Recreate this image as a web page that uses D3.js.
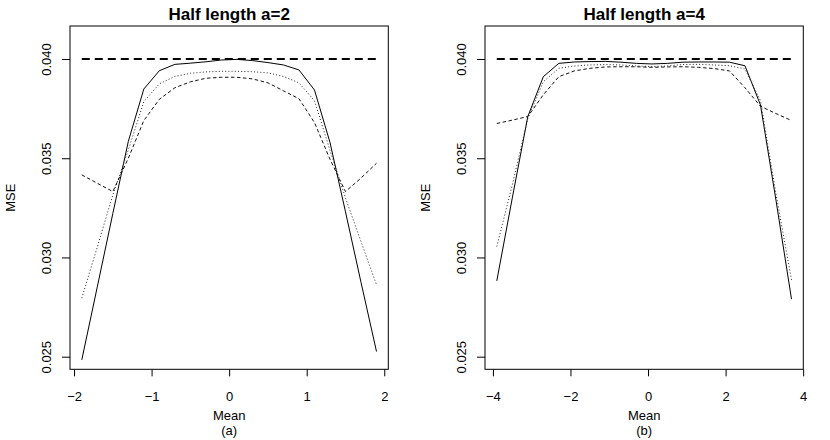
<!DOCTYPE html>
<html>
<head>
<meta charset="utf-8">
<script src="https://cdn.jsdelivr.net/npm/d3@7"></script>
<style>
  html, body { margin: 0; padding: 0; background: #fff; }
  svg { display: block; font-family: "Liberation Sans", Arial, Helvetica, sans-serif; }
</style>
</head>
<body>
<svg id="chart" width="830" height="440"></svg>
<script>
'use strict';

// Panel (a): half length a=2
var meanA = [-1.9, -1.7, -1.5, -1.3, -1.1, -0.9, -0.7, -0.5, -0.3, -0.1,
  0.1, 0.3, 0.5, 0.7, 0.9, 1.1, 1.3, 1.5, 1.7, 1.9];
var solidA = [0.02484, 0.02852, 0.03221, 0.03585, 0.03849, 0.03941, 0.03973, 0.03979, 0.03986, 0.03995,
  0.03998, 0.03992, 0.03982, 0.03970, 0.03945, 0.03844, 0.03580, 0.03230, 0.02875, 0.02526];
var dottedA = [0.02795, 0.03053, 0.03315, 0.03542, 0.03785, 0.03875, 0.03912, 0.03928, 0.03935, 0.03938,
  0.03938, 0.03936, 0.03930, 0.03912, 0.03880, 0.03790, 0.03540, 0.03300, 0.03080, 0.02862];
var dashedA = [0.03416, 0.03374, 0.03332, 0.03500, 0.03690, 0.03797, 0.03855, 0.03885, 0.03903, 0.03908,
  0.03908, 0.03900, 0.03880, 0.03840, 0.03800, 0.03680, 0.03495, 0.03332, 0.03400, 0.03475];

// Panel (b): half length a=4
var meanB = [-3.9, -3.5, -3.1, -2.7, -2.3, -1.9, -1.5, -1.1, -0.7, -0.3,
  0.1, 0.5, 0.9, 1.3, 1.7, 2.1, 2.5, 2.9, 3.3, 3.7];
var solidB = [0.02882, 0.03300, 0.03710, 0.03911, 0.03978, 0.03985, 0.03987, 0.03988, 0.03984, 0.03978,
  0.03975, 0.03978, 0.03984, 0.03985, 0.03985, 0.03984, 0.03966, 0.03768, 0.03288, 0.02790];
var dottedB = [0.03055, 0.03366, 0.03700, 0.03886, 0.03953, 0.03965, 0.03970, 0.03972, 0.03970, 0.03965,
  0.03962, 0.03965, 0.03972, 0.03973, 0.03970, 0.03966, 0.03950, 0.03790, 0.03320, 0.02887];
var dashedB = [0.03675, 0.03692, 0.03710, 0.03820, 0.03911, 0.03940, 0.03953, 0.03960, 0.03961, 0.03961,
  0.03958, 0.03960, 0.03961, 0.03958, 0.03952, 0.03940, 0.03855, 0.03762, 0.03725, 0.03690];

var referenceMSE = 0.04;
var yTicks = [0.025, 0.030, 0.035, 0.040];
var xTicksA = [-2, -1, 0, 1, 2];
var xTicksB = [-4, -2, 0, 2, 4];
var titles = ['Half length a=2', 'Half length a=4'];
var subLabels = ['(a)', '(b)'];

(function initChart() {
  var svg = d3.select('#chart');
  var yDomain = [0.024365, 0.041663];

  var panels = [
    { left: 70, xDomain: [-2.052, 2.052], mean: meanA, solid: solidA, dotted: dottedA, dashed: dashedA, ticks: xTicksA },
    { left: 485, xDomain: [-4.204, 4.004], mean: meanB, solid: solidB, dotted: dottedB, dashed: dashedB, ticks: xTicksB },
  ];

  panels.forEach(function drawPanel(p, i) {
    var top = 26;
    var bottom = 369.3;
    var width = 318.3;
    var x = d3.scaleLinear().domain(p.xDomain).range([p.left, p.left + width]);
    var y = d3.scaleLinear().domain(yDomain).range([bottom, top]);
    var g = svg.append('g');

    function series(values) {
      return p.mean.map(function (m, k) { return [m, values[k]]; });
    }
    var line = d3.line()
      .x(function (d) { return x(d[0]); })
      .y(function (d) { return y(d[1]); });

    // reference level drawn thick and dashed across the data range
    g.append('path')
      .datum([[p.mean[0], referenceMSE], [p.mean[p.mean.length - 1], referenceMSE]])
      .attr('d', line)
      .style('fill', 'none')
      .style('stroke', '#000')
      .style('stroke-width', 2)
      .style('stroke-dasharray', '8,5');

    [
      [p.solid, null, '#000'],
      [p.dotted, '1,2.2', '#222'],
      [p.dashed, '3.5,2.5', '#111'],
    ].forEach(function drawSeries(s) {
      g.append('path')
        .datum(series(s[0]))
        .attr('d', line)
        .style('fill', 'none')
        .style('stroke', s[2])
        .style('stroke-width', 1)
        .style('stroke-dasharray', s[1]);
    });

    // box
    g.append('rect')
      .attr('x', p.left)
      .attr('y', top)
      .attr('width', width)
      .attr('height', bottom - top)
      .style('fill', 'none')
      .style('stroke', '#000')
      .style('stroke-width', 1);

    // x axis
    var xAxis = d3.axisBottom(x)
      .tickValues(p.ticks)
      .tickSize(7)
      .tickPadding(6)
      .tickFormat(function (d) { return d < 0 ? '\u2212' + Math.abs(d) : String(d); });
    var xg = g.append('g').attr('transform', 'translate(0,' + bottom + ')').call(xAxis);
    xg.select('.domain').remove();
    xg.selectAll('text')
      .attr('dy', null)
      .attr('y', 32.2)
      .style('font-family', '"Liberation Sans", Arial, sans-serif')
      .style('font-size', '13px')
      .style('fill', '#000');
    xg.selectAll('line').style('stroke', '#000');

    // y axis
    var yAxis = d3.axisLeft(y)
      .tickValues(yTicks)
      .tickSize(8)
      .tickFormat(d3.format('.3f'));
    var yg = g.append('g').attr('transform', 'translate(' + p.left + ',0)').call(yAxis);
    yg.select('.domain').remove();
    yg.selectAll('line').style('stroke', '#000');
    yg.selectAll('text')
      .attr('x', null)
      .attr('dy', null)
      .attr('transform', 'translate(-19.5,0) rotate(-90)')
      .attr('text-anchor', 'middle')
      .style('font-family', '"Liberation Sans", Arial, sans-serif')
      .style('font-size', '13px')
      .style('fill', '#000');

    var cx = p.left + width / 2;
    g.append('text')
      .attr('x', cx)
      .attr('y', 20)
      .attr('text-anchor', 'middle')
      .style('font-size', '17px')
      .style('font-weight', 'bold')
      .text(titles[i]);
    g.append('text')
      .attr('x', cx)
      .attr('y', 420)
      .attr('text-anchor', 'middle')
      .style('font-size', '13px')
      .text('Mean');
    g.append('text')
      .attr('x', cx)
      .attr('y', 434.5)
      .attr('text-anchor', 'middle')
      .style('font-size', '13px')
      .text(subLabels[i]);
    g.append('text')
      .attr('transform', 'translate(' + (p.left - 55) + ',' + ((top + bottom) / 2) + ') rotate(-90)')
      .attr('text-anchor', 'middle')
      .style('font-size', '13px')
      .text('MSE');
  });
}());
</script>
</body>
</html>
